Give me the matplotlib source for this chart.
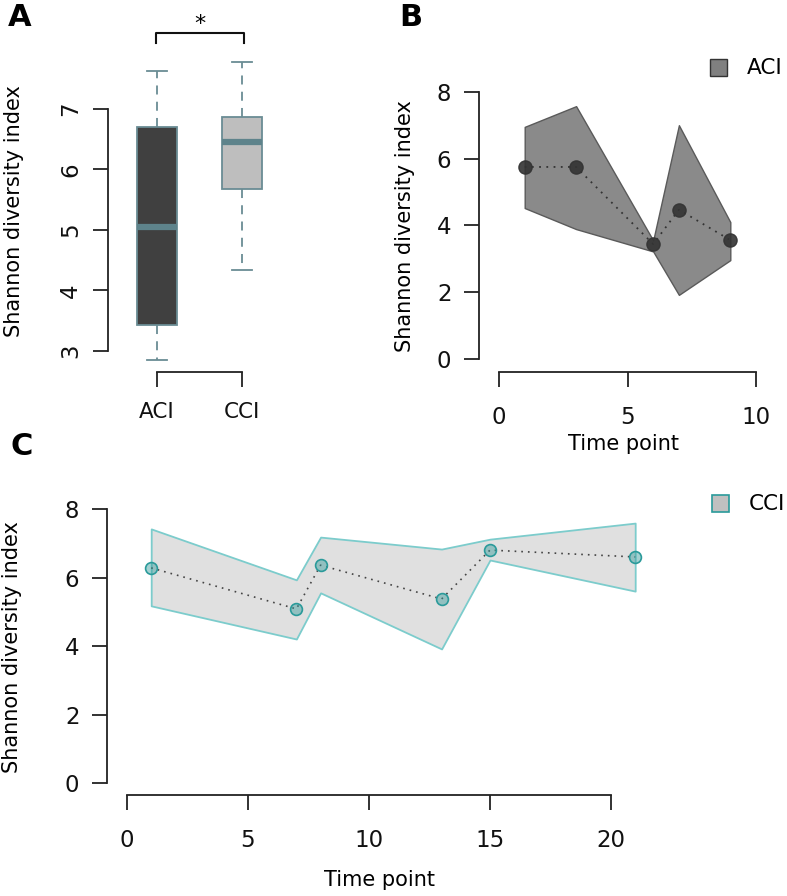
import matplotlib
matplotlib.use("Agg")
import matplotlib.pyplot as plt
from matplotlib.patches import Rectangle
from matplotlib.lines import Line2D

plt.rcParams['font.family'] = ['DejaVu Sans']

W, H = 787, 896
DPI = 100

# ---------------- data ----------------
groups = ["ACI", "CCI"]
box_q1 = [3.43, 5.68]
box_med = [5.05, 6.45]
box_q3 = [6.70, 6.87]
box_lo = [2.85, 4.34]
box_hi = [7.63, 7.77]
box_fill = ["#404040", "#bebebe"]

aci_time = [1, 3, 6, 7, 9]
aci_mean = [5.75, 5.75, 3.44, 4.47, 3.56]
aci_upper = [6.95, 7.57, 3.55, 7.00, 4.10]
aci_lower = [4.52, 3.89, 3.22, 1.92, 2.96]

cci_time = [1, 7, 8, 13, 15, 21]
cci_mean = [6.29, 5.09, 6.37, 5.38, 6.81, 6.61]
cci_upper = [7.43, 5.94, 7.19, 6.84, 7.13, 7.60]
cci_lower = [5.18, 4.21, 5.56, 3.92, 6.52, 5.61]

yticks_a = [3, 4, 5, 6, 7]
yticks_bc = [0, 2, 4, 6, 8]
xticks_b = [0, 5, 10]
xticks_c = [0, 5, 10, 15, 20]

FS = 15
TFS = 16.5
TICKLEN = 10.8  # points (~15 px)

fig = plt.figure(figsize=(W / DPI, H / DPI), dpi=DPI)


def rect(l, t, r, b):
    return [l / W, 1 - b / H, (r - l) / W, (b - t) / H]


def fp(x, y):
    return (x / W, 1 - y / H)


def style_axes(ax):
    for s in ["top", "right"]:
        ax.spines[s].set_visible(False)
    for s in ["left", "bottom"]:
        ax.spines[s].set_linewidth(1.3)
        ax.spines[s].set_color("#222222")
    ax.tick_params(direction="out", length=TICKLEN, width=1.3, color="#222222",
                   labelsize=TFS, labelcolor="#111111")


# ---------------- Panel A ----------------
axA = fig.add_axes(rect(108, 50, 291, 372))
stats = []
for i, g in enumerate(groups):
    stats.append(dict(label=g, med=box_med[i], q1=box_q1[i], q3=box_q3[i],
                      whislo=box_lo[i], whishi=box_hi[i], fliers=[]))
edge = "#6a8c94"
res = axA.bxp(stats, positions=[1, 2], widths=0.48, capwidths=0.24, patch_artist=True,
              showfliers=False,
              boxprops=dict(edgecolor=edge, linewidth=1.3),
              medianprops=dict(color="#5e838b", linewidth=4.5, solid_capstyle="butt"),
              whiskerprops=dict(color=edge, linewidth=1.3, linestyle=(0, (5, 4))),
              capprops=dict(color=edge, linewidth=1.3))
for patch, c in zip(res["boxes"], box_fill):
    patch.set_facecolor(c)
axA.set_xlim(0.42, 2.58)
axA.set_ylim(3 - 21 / 60.5, 7 + 59 / 60.5)
style_axes(axA)
axA.spines["left"].set_bounds(3, 7)
axA.spines["bottom"].set_bounds(1, 2)
axA.set_yticks(yticks_a)
axA.set_yticklabels([str(v) for v in yticks_a], rotation=90, va="center")
axA.set_xticks([1, 2])
axA.set_xticklabels(groups, fontsize=FS + 0.5)
axA.tick_params(axis="y", pad=8)
axA.tick_params(axis="x", pad=11)

# significance bracket
fig.add_artist(Line2D([156 / W, 156 / W, 244 / W, 244 / W],
                      [1 - 43 / H, 1 - 33 / H, 1 - 33 / H, 1 - 43 / H],
                      color="#111111", lw=1.5))
fig.text(*fp(200, 24), "*", ha="center", va="center", fontsize=FS + 1)
fig.text(*fp(14, 211), "Shannon diversity index", rotation=90, ha="center", va="center",
         fontsize=FS)

# ---------------- Panel B ----------------
axB = fig.add_axes(rect(479, 81, 766, 372))
axB.fill_between(aci_time, aci_lower, aci_upper, facecolor="#8a8a8a", edgecolor="#5a5a5a",
                 linewidth=1.0)
axB.plot(aci_time, aci_mean, linestyle=(0, (1, 3)), color="#333333", lw=1.3)
axB.plot(aci_time, aci_mean, linestyle="none", marker="o", markersize=9.5,
         markerfacecolor="#333333", markeredgecolor="#333333", alpha=0.9)
axB.set_xlim(-20 / 25.7, 267 / 25.7)
axB.set_ylim(-13 / 33.4, 278 / 33.4)
style_axes(axB)
axB.spines["left"].set_bounds(0, 8)
axB.spines["bottom"].set_bounds(0, 10)
axB.set_yticks(yticks_bc)
axB.set_xticks(xticks_b)
axB.tick_params(axis="y", pad=9)
axB.tick_params(axis="x", pad=14)
fig.text(*fp(624, 444), "Time point", ha="center", va="center", fontsize=FS)
fig.text(*fp(405, 226), "Shannon diversity index", rotation=90, ha="center", va="center",
         fontsize=FS)
fig.add_artist(Rectangle(fp(710, 76), 17 / W, 17 / H, transform=fig.transFigure,
                         facecolor="#808080", edgecolor="#333333", lw=1.0))
fig.text(*fp(747, 68), "ACI", ha="left", va="center", fontsize=FS + 0.5)

# ---------------- Panel C ----------------
axC = fig.add_axes(rect(107, 499, 660, 795))
axC.fill_between(cci_time, cci_lower, cci_upper, facecolor="#e0e0e0", edgecolor="#7ccccc",
                 linewidth=1.3)
axC.plot(cci_time, cci_mean, linestyle=(0, (1, 3)), color="#444444", lw=1.2)
axC.plot(cci_time, cci_mean, linestyle="none", marker="o", markersize=8.5,
         markerfacecolor=(0.2, 0.6, 0.6, 0.45), markeredgecolor="#2a9a9a", markeredgewidth=1.2)
axC.set_xlim(-20 / 24.2, 533 / 24.2)
axC.set_ylim(-12 / 34.2, 284 / 34.2)
style_axes(axC)
axC.spines["left"].set_bounds(0, 8)
axC.spines["bottom"].set_bounds(0, 20)
axC.set_yticks(yticks_bc)
axC.set_xticks(xticks_c)
axC.tick_params(axis="y", pad=9)
axC.tick_params(axis="x", pad=14)
fig.text(*fp(380, 880), "Time point", ha="center", va="center", fontsize=FS)
fig.text(*fp(12, 647), "Shannon diversity index", rotation=90, ha="center", va="center",
         fontsize=FS)
fig.add_artist(Rectangle(fp(712, 512), 17 / W, 17 / H, transform=fig.transFigure,
                         facecolor="#c0c0c0", edgecolor="#2a9a9a", lw=1.2))
fig.text(*fp(749, 504), "CCI", ha="left", va="center", fontsize=FS + 0.5)

# panel letters
for lbl, (x, y) in zip(["A", "B", "C"], [(20, 18), (411, 18), (22, 446)]):
    fig.text(*fp(x, y), lbl, ha="center", va="center", fontsize=22, fontweight="bold")

fig.savefig("out.png", dpi=DPI)
